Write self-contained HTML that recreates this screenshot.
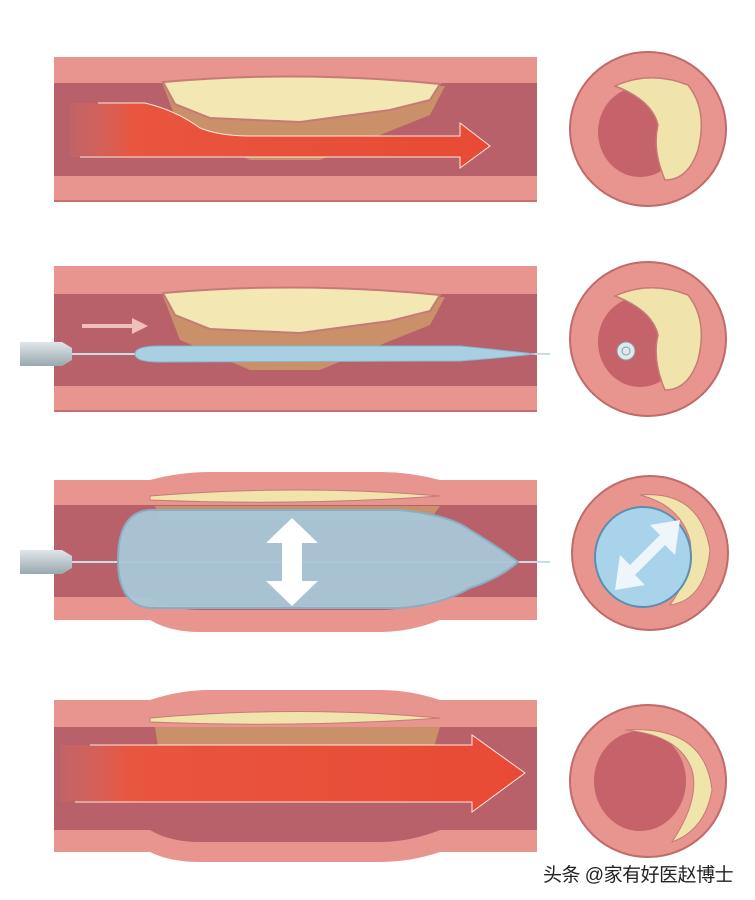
<!DOCTYPE html>
<html><head><meta charset="utf-8"><style>
html,body{margin:0;padding:0;background:#fff;width:755px;height:900px;overflow:hidden}
svg{display:block}
.wm{position:absolute;left:543px;top:860px;font:19px "Liberation Sans","Noto Sans CJK SC",sans-serif;color:#222;letter-spacing:-0.5px}
</style></head><body>
<svg width="755" height="900" viewBox="0 0 755 900">
<defs>
<linearGradient id="red" x1="0" x2="1"><stop offset="0" stop-color="#e46a5c" stop-opacity="0.2"/><stop offset="0.15" stop-color="#e9553f"/><stop offset="1" stop-color="#e84a35"/></linearGradient>
<linearGradient id="cath" x1="0" y1="0" x2="0" y2="1"><stop offset="0" stop-color="#dfe6ea"/><stop offset="1" stop-color="#9aa7ae"/></linearGradient>
</defs>
<!-- Panel 1 -->
<rect x="54" y="57" width="483" height="145" fill="#e8958f"/>
<line x1="54" y1="201" x2="537" y2="201" stroke="#c47070" stroke-width="2"/>
<rect x="54" y="83" width="483" height="93" fill="#b8616a"/>
<path d="M163 85 L445 86 L430 115 L380 135 L320 160 L250 160 L180 130 Z" fill="#c9906a"/>
<path d="M163 82 Q300 70 440 84 L430 100 L390 110 L300 122 L210 118 L175 104 Z" fill="#f3e7b4" stroke="#c77a78" stroke-width="2"/>
<path d="M70 103 L145 103 Q175 110 200 128 Q220 136 250 136 L460 136 L460 123 L490 146 L460 168 L460 157 L70 157 Z" fill="url(#red)"/>
<path d="M98 103 L145 103 Q175 110 200 128 Q220 136 250 136 L460 136 L460 123 L490 146 L460 168 L460 157 L80 157" fill="none" stroke="#fbe8dc" stroke-width="1"/>
<ellipse cx="648" cy="129" rx="78" ry="77" fill="#e8958f" stroke="#c06a6a" stroke-width="2"/>
<ellipse cx="640" cy="132" rx="42" ry="45" fill="#c5626a"/>
<path d="M615 86 Q650 70 688 85 Q708 110 698 150 Q688 180 665 180 Q652 150 658 125 Q652 100 615 86 Z" fill="#f0e3ac" stroke="#c77a78" stroke-width="1.5"/>
<!-- Panel 2 -->
<rect x="54" y="266" width="483" height="146" fill="#e8958f"/>
<line x1="54" y1="411" x2="537" y2="411" stroke="#c47070" stroke-width="2"/>
<rect x="54" y="294" width="483" height="92" fill="#b8616a"/>
<path d="M163 296 L445 297 L430 325 L380 345 L320 370 L250 370 L180 340 Z" fill="#c9906a"/>
<path d="M163 293 Q300 281 440 295 L430 311 L390 321 L300 333 L210 329 L175 315 Z" fill="#f3e7b4" stroke="#c77a78" stroke-width="2"/>
<path d="M82 324 L132 324 L132 318 L148 326 L132 334 L132 328 L82 328 Z" fill="#f0c0b8"/>
<line x1="60" y1="354" x2="550" y2="354" stroke="#c9dde4" stroke-width="2"/>
<path d="M135 354 Q135 346 160 346 L460 346 Q500 350 535 354 Q500 358 460 361 L160 362 Q135 362 135 354 Z" fill="#a9cfe3" stroke="#8ab5cc"/>
<path d="M20 342 L62 342 L72 348 L72 360 L62 366 L20 366 Z" fill="url(#cath)"/>
<ellipse cx="648" cy="339" rx="78" ry="77" fill="#e8958f" stroke="#c06a6a" stroke-width="2"/>
<ellipse cx="640" cy="342" rx="42" ry="45" fill="#c5626a"/>
<path d="M615 296 Q650 280 688 295 Q708 320 698 360 Q688 390 665 390 Q652 360 658 335 Q652 310 615 296 Z" fill="#f0e3ac" stroke="#c77a78" stroke-width="1.5"/>
<circle cx="626" cy="351" r="9" fill="#dfe8ec" stroke="#889aa4"/><circle cx="626" cy="351" r="4" fill="none" stroke="#889aa4"/>
<!-- Panel 3 -->
<path d="M54 480 L150 480 Q180 472 210 472 L380 472 Q410 472 440 480 L537 480 L537 620 L440 620 Q410 632 380 632 L200 632 Q170 632 150 620 L54 620 Z" fill="#e8958f"/>
<path d="M54 505 L537 505 L537 597 L440 597 Q410 610 380 610 L200 610 Q170 610 150 597 L54 597 Z" fill="#b8616a"/>
<path d="M150 496 Q300 484 440 496 Q300 506 150 500 Z" fill="#f0e3ac" stroke="#c77a78"/>
<path d="M155 506 L440 506 L430 520 L160 520 Z" fill="#c9906a"/>
<line x1="60" y1="562" x2="550" y2="562" stroke="#c9dde4" stroke-width="2"/>
<path d="M118 560 Q118 512 150 510 L400 510 Q450 515 470 530 Q500 548 518 562 Q500 578 470 588 Q440 605 400 608 L150 608 Q118 605 118 560 Z" fill="#a8c7d8" fill-opacity="0.95" stroke="#8aadc3" stroke-width="2"/>
<path d="M292 518 L318 543 L302 543 L302 581 L318 581 L292 606 L266 581 L282 581 L282 543 L266 543 Z" fill="#fff"/>
<path d="M20 550 L62 550 L72 556 L72 568 L62 574 L20 574 Z" fill="url(#cath)"/>
<ellipse cx="650" cy="553" rx="78" ry="77" fill="#e8958f" stroke="#c06a6a" stroke-width="2"/>
<path d="M640 495 Q700 490 710 550 Q705 600 670 605 Q695 570 690 540 Q680 505 640 495 Z" fill="#f0e3ac" stroke="#c77a78"/>
<ellipse cx="643" cy="557" rx="48" ry="50" fill="#a9d3ea" stroke="#5a8fb0" stroke-width="2"/>
<path d="M615 590 L620 555 L630 565 L660 535 L650 525 L680 520 L675 555 L665 545 L635 575 L645 585 Z" fill="#eef6fb"/>
<!-- Panel 4 -->
<path d="M54 700 L150 700 Q180 690 210 690 L380 690 Q410 690 440 700 L537 700 L537 852 L440 852 Q410 862 380 862 L200 862 Q170 862 150 852 L54 852 Z" fill="#e8958f"/>
<path d="M54 727 L537 727 L537 830 L440 830 Q410 842 380 842 L200 842 Q170 842 150 830 L54 830 Z" fill="#b8616a"/>
<path d="M150 718 Q300 705 440 718 Q300 728 150 722 Z" fill="#f0e3ac" stroke="#c77a78"/>
<path d="M155 727 L440 727 L430 760 L160 760 Z" fill="#c9906a"/>
<path d="M60 745 L472 745 L472 735 L525 773 L472 812 L472 802 L60 802 Z" fill="url(#red)"/>
<path d="M90 745 L472 745 L472 735 L525 773 L472 812 L472 802 L75 802" fill="none" stroke="#fbe8dc"/>
<ellipse cx="648" cy="781" rx="78" ry="76" fill="#e8958f" stroke="#c06a6a" stroke-width="2"/>
<ellipse cx="640" cy="781" rx="46" ry="50" fill="#c5626a"/>
<path d="M625 730 Q705 725 712 790 Q705 830 672 842 Q700 800 692 770 Q680 735 625 730 Z" fill="#f0e3ac" stroke="#c77a78"/>
</svg>
<div class="wm">头条 @家有好医赵博士</div>
</body></html>
